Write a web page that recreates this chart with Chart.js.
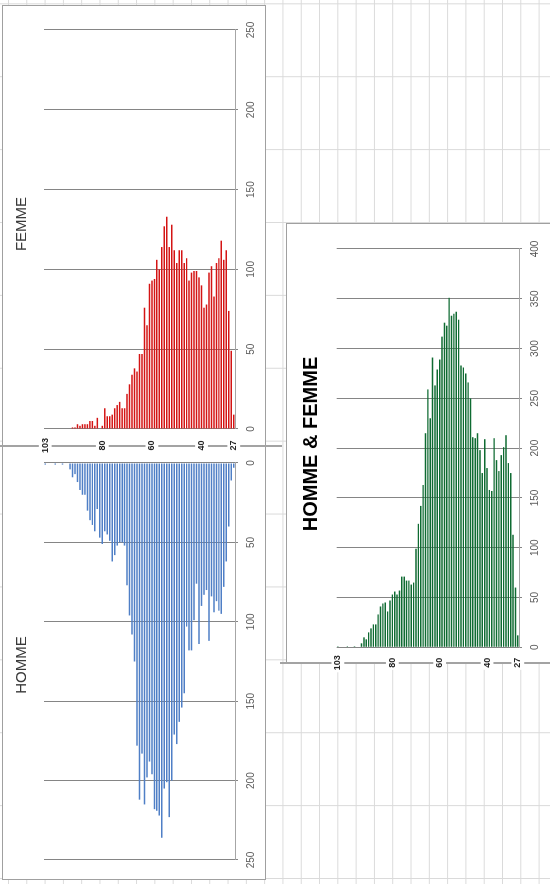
<!DOCTYPE html>
<html>
<head>
<meta charset="utf-8">
<script src="https://cdn.jsdelivr.net/npm/chart.js@4.4.1/dist/chart.umd.min.js"></script>
<style>
  html, body { margin: 0; padding: 0; width: 550px; height: 884px; overflow: hidden; background: #fff; }
  /* the sheet is laid out the way Excel showed it, then turned a quarter turn */
  #sheet {
    position: absolute; left: 0; top: 0; width: 884px; height: 550px;
    transform-origin: 0 0; transform: translate(0, 884px) rotate(-90deg);
    background-color: #fff;
    background-image:
      linear-gradient(to right, #dadada 1px, transparent 1px),
      linear-gradient(to bottom, #dadada 1px, transparent 1px);
    background-size: 72.9px 100%, 100% 18.3px;
    background-position: 5px 0, 0 8px;
    font-family: 'Liberation Sans', Arial, sans-serif;
  }
  .frame { position: absolute; background: #fff; border: 1px solid #a0a0a0; box-sizing: border-box; }
  .ageline { position: absolute; background: #a3a3a3; }
  canvas { position: absolute; }
  .title { position: absolute; white-space: nowrap; line-height: 1; transform: translateX(-50%); }
</style>
</head>
<body>
<div id="sheet">
  <div class="frame" style="left:4px; top:2px; width:875px; height:264px;"></div>
  <div class="frame" style="left:221px; top:286px; width:440px; height:280px;"></div>
  <div class="ageline" style="left:437px; top:0; width:2px; height:282px;"></div>
  <div class="ageline" style="left:220px; top:280px; width:2px; height:270px;"></div>

  <canvas id="chart-homme" width="438" height="268" style="left:0; top:0;"></canvas>
  <canvas id="chart-femme" width="462" height="268" style="left:431px; top:0;"></canvas>
  <canvas id="chart-total" width="460" height="264" style="left:205px; top:286px;"></canvas>

  <div class="title" style="left:660px; top:13px; font-size:15px; color:#3a3a3a;">FEMME</div>
  <div class="title" style="left:219px; top:13px; font-size:15px; color:#3a3a3a;">HOMME</div>
  <div class="title" style="left:440px; top:300px; font-size:20px; font-weight:bold; color:#000;">HOMME &amp; FEMME</div>
</div>

<script>
const AGES = [103,102,101,100,99,98,97,96,95,94,93,92,91,90,89,88,87,86,85,84,
  83,82,81,80,79,78,77,76,75,74,73,72,71,70,69,68,67,66,65,64,
  63,62,61,60,59,58,57,56,55,54,53,52,51,50,49,48,47,46,45,44,
  43,42,41,40,39,38,37,36,35,34,33,32,31,30,29,28,27];
const SHOWN_AGES = [103, 80, 60, 40, 27];

const FEMME = [0,0,0,0,0,0,0,0,0,0,0,
  1,1,3,2,3,3,3,5,5,2,
  7,0,2,13,8,8,9,13,15,17,
  13,13,22,28,34,38,36,47,47,76,
  65,91,93,94,106,100,114,127,133,114,
  128,112,104,112,112,104,107,93,98,99,
  99,95,90,76,78,98,102,83,104,107,
  118,106,112,74,49,9];

const HOMME = [1,0,0,0,1,0,0,1,0,0,4,
  9,7,12,17,20,20,30,36,39,43,
  29,47,51,43,45,49,62,58,52,50,
  50,52,77,96,108,125,178,212,183,215,
  198,188,196,218,219,222,236,205,201,223,
  200,171,177,163,154,145,103,118,118,99,
  76,114,90,83,80,112,84,94,87,93,
  95,78,62,40,11,3];

const TOTAL = [1,0,0,0,1,0,0,1,0,0,4,
  10,8,15,19,23,23,33,41,44,45,
  36,47,53,56,53,57,71,71,67,67,
  63,65,99,124,142,163,215,259,230,291,
  263,279,289,312,326,323,351,333,335,337,
  329,283,281,275,266,250,211,210,215,198,
  175,209,180,158,157,210,188,177,193,201,
  213,185,175,113,60,12];

Chart.defaults.font.family = "'Liberation Sans', Arial, sans-serif";

function valueAxis(max, reverse, height) {
  return {
    type: 'linear',
    min: 0,
    max: max,
    reverse: reverse,
    afterFit: s => { s.height = height; },
    grid: { color: '#858585', lineWidth: 1, tickLength: 3 },
    border: { color: '#a6a6a6' },
    ticks: { stepSize: 50, padding: 7, color: '#595959', font: { size: 10 } }
  };
}

function ageAxis(pad, width) {
  return {
    type: 'category',
    grid: { display: false, drawTicks: false },
    border: { display: false },
    afterFit: s => { s.width = width; },
    afterBuildTicks: s => { s.ticks = s.ticks.filter(t => SHOWN_AGES.includes(AGES[t.value])); },
    ticks: {
      autoSkip: false,
      crossAlign: 'center',
      padding: pad,
      color: '#262626',
      font: { size: 9, weight: 'bold' },
      showLabelBackdrop: true,
      backdropColor: '#ffffff',
      backdropPadding: { top: 1, bottom: 1, left: 2, right: 2 }
    }
  };
}

function barChart(id, values, color, scales, padding) {
  return new Chart(document.getElementById(id), {
    type: 'bar',
    data: {
      labels: AGES,
      datasets: [{
        data: values,
        backgroundColor: color,
        borderWidth: 0,
        barPercentage: 0.6,
        categoryPercentage: 1
      }]
    },
    options: {
      indexAxis: 'y',
      responsive: false,
      animation: false,
      layout: { padding: padding },
      scales: scales,
      plugins: { legend: { display: false }, tooltip: { enabled: false } }
    }
  });
}

barChart('chart-femme', FEMME, '#d41414',
  { x: valueAxis(250, false, 33), y: ageAxis(9, 24) },
  { top: 44, right: 39, left: 0, bottom: 0 });

barChart('chart-homme', HOMME, '#4f7fc6',
  { x: valueAxis(250, true, 33), y: { type: 'category', display: false } },
  { top: 44, right: 17, left: 24, bottom: 0 });

barChart('chart-total', TOTAL, '#0f6b32',
  { x: valueAxis(400, false, 31), y: ageAxis(8, 31.7) },
  { top: 50.7, right: 30, left: 0, bottom: 0 });
</script>
</body>
</html>
